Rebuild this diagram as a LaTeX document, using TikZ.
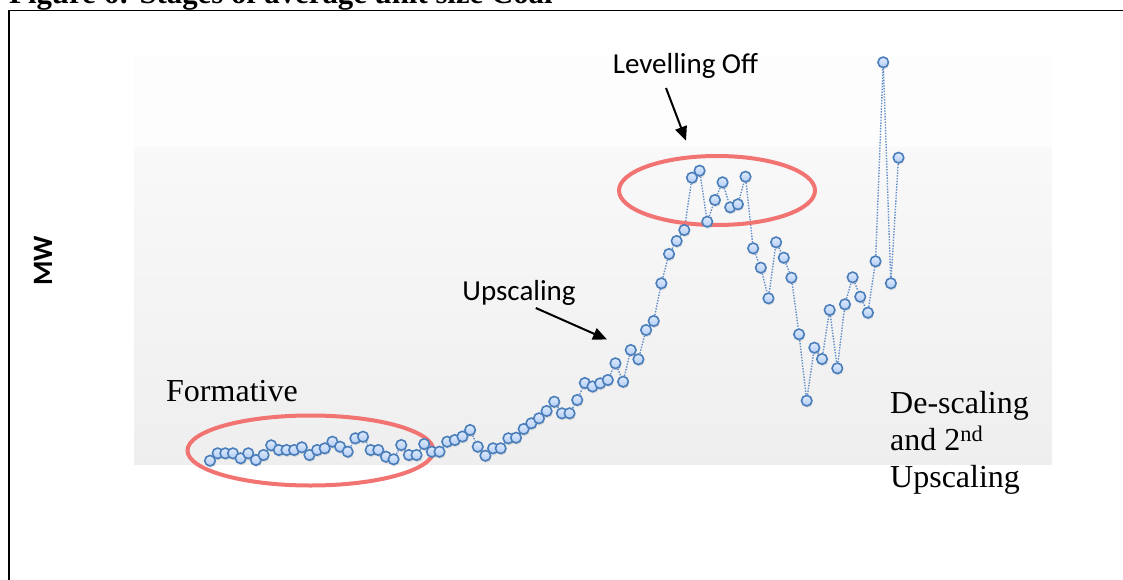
\documentclass[tikz,border=0pt]{standalone}
\usepackage{fontspec}
\setmainfont{Liberation Serif}
\newfontfamily\carlito{Carlito}
\usetikzlibrary{shapes.geometric,arrows.meta,shadows,backgrounds}
\definecolor{salmon}{RGB}{241,116,114}
\definecolor{mkborder}{RGB}{74,126,187}
\definecolor{mkfilltop}{RGB}{222,234,252}
\definecolor{mkfillbot}{RGB}{178,204,245}
\definecolor{linecol}{RGB}{96,140,200}
\tikzset{
  mk/.style={circle, draw=mkborder, line width=1.6pt, inner sep=0pt, minimum size=10.5pt,
    top color=mkfilltop, bottom color=mkfillbot,
    drop shadow={shadow xshift=0.8pt, shadow yshift=-1.8pt, opacity=0.22}},
  conn/.style={draw=linecol, line width=1.4pt, dash pattern=on 1.4pt off 1.4pt},
  ring/.style={ellipse, draw=salmon, line width=4pt, inner sep=0pt},
  callout/.style={-{Triangle[length=14pt,width=12pt]}, line width=2pt, black},
  lbl/.style={font=\carlito\fontsize{29}{35}\selectfont},
  serif/.style={font=\fontsize{32}{37}\selectfont},
  frame/.style={draw=black, line width=1.3pt}
}
\begin{document}
\begin{tikzpicture}[x=1pt,y=-1pt]
\useasboundingbox (0,0) rectangle (1123,580);
\clip (0,0) rectangle (1123,580);
% title (cut off at top)
\node[anchor=base west, inner sep=0pt, font=\bfseries\fontsize{30.8}{36}\selectfont] (title) at (9,4) {Figure 6: Stages of average unit size Coal};
% frame
\draw[frame] (9,600) -- (9,10.5) -- (1135,10.5);
\begin{pgfonlayer}{background}
  \fill[black!0.8] (134,57) rectangle (1052,148);
  \fill[top color=black!2.5, bottom color=black!6.5] (134,148) rectangle (1052,464);
\end{pgfonlayer}
% ellipses
\node[ring, minimum width=246pt, minimum height=70pt] (e1) at (310.5,450.5) {};
\node[ring, minimum width=196pt, minimum height=69pt] (e2) at (717,190.5) {};
% data points
\foreach \yv [count=\i from 0] in {460.7,453.3,453.3,453.3,458.3,453.3,460,455,445.3,450,450,450,447.3,455,450,448.3,441.7,446.7,451.7,438.3,436.7,450,450,456.7,459.3,445,455,455,444,451.7,451.7,441.7,440,436.5,430,446.7,455.7,448.3,448.3,438.3,437.7,429,423.3,418.3,411,401.7,413.3,413.3,400,383,386.5,383.3,380,363.3,381.7,350,359.3,330,321,283.3,254,241,230,177.7,170.7,221.7,200,182.3,207.3,204.3,176.7,248.3,267.7,298.3,242.3,257.7,277.7,334.3,400.7,347.7,359,310,368.3,304.3,277.3,296.7,312.7,261.3,62.3,283.3,157.7}
  { \node[mk] (p\i) at ({210+7.65*\i},\yv) {}; }
\begin{pgfonlayer}{background}
  \foreach \i in {0,...,89} { \pgfmathtruncatemacro\j{\i+1} \draw[conn] (p\i) -- (p\j); }
\end{pgfonlayer}
% labels
\node[lbl, anchor=base] (lev) at (685.5,74) {Levelling Off};
\node[lbl, anchor=base] (ups) at (519,300.5) {Upscaling};
\node[serif, anchor=base west, inner sep=0pt] (form) at (166,401) {Formative};
\node[serif, anchor=base west, inner sep=0pt] (ds1) at (890,413.5) {De-scaling};
\node[serif, anchor=base west, inner sep=0pt] (ds2) at (890,450.3) {and 2\textsuperscript{nd}};
\node[serif, anchor=base west, inner sep=0pt] (ds3) at (890,487) {Upscaling};
\node[rotate=90, font=\carlito\bfseries\fontsize{28}{30}\selectfont] (mw) at (43,261) {MW};
% arrows
\coordinate (a1s) at (666,88);
\coordinate (a1e) at (686,140.6);
\coordinate (a2s) at (535.8,308);
\coordinate (a2e) at (607,339.5);
\draw[callout] (a1s) -- (a1e);
\draw[callout] (a2s) -- (a2e);
\end{tikzpicture}
\end{document}
